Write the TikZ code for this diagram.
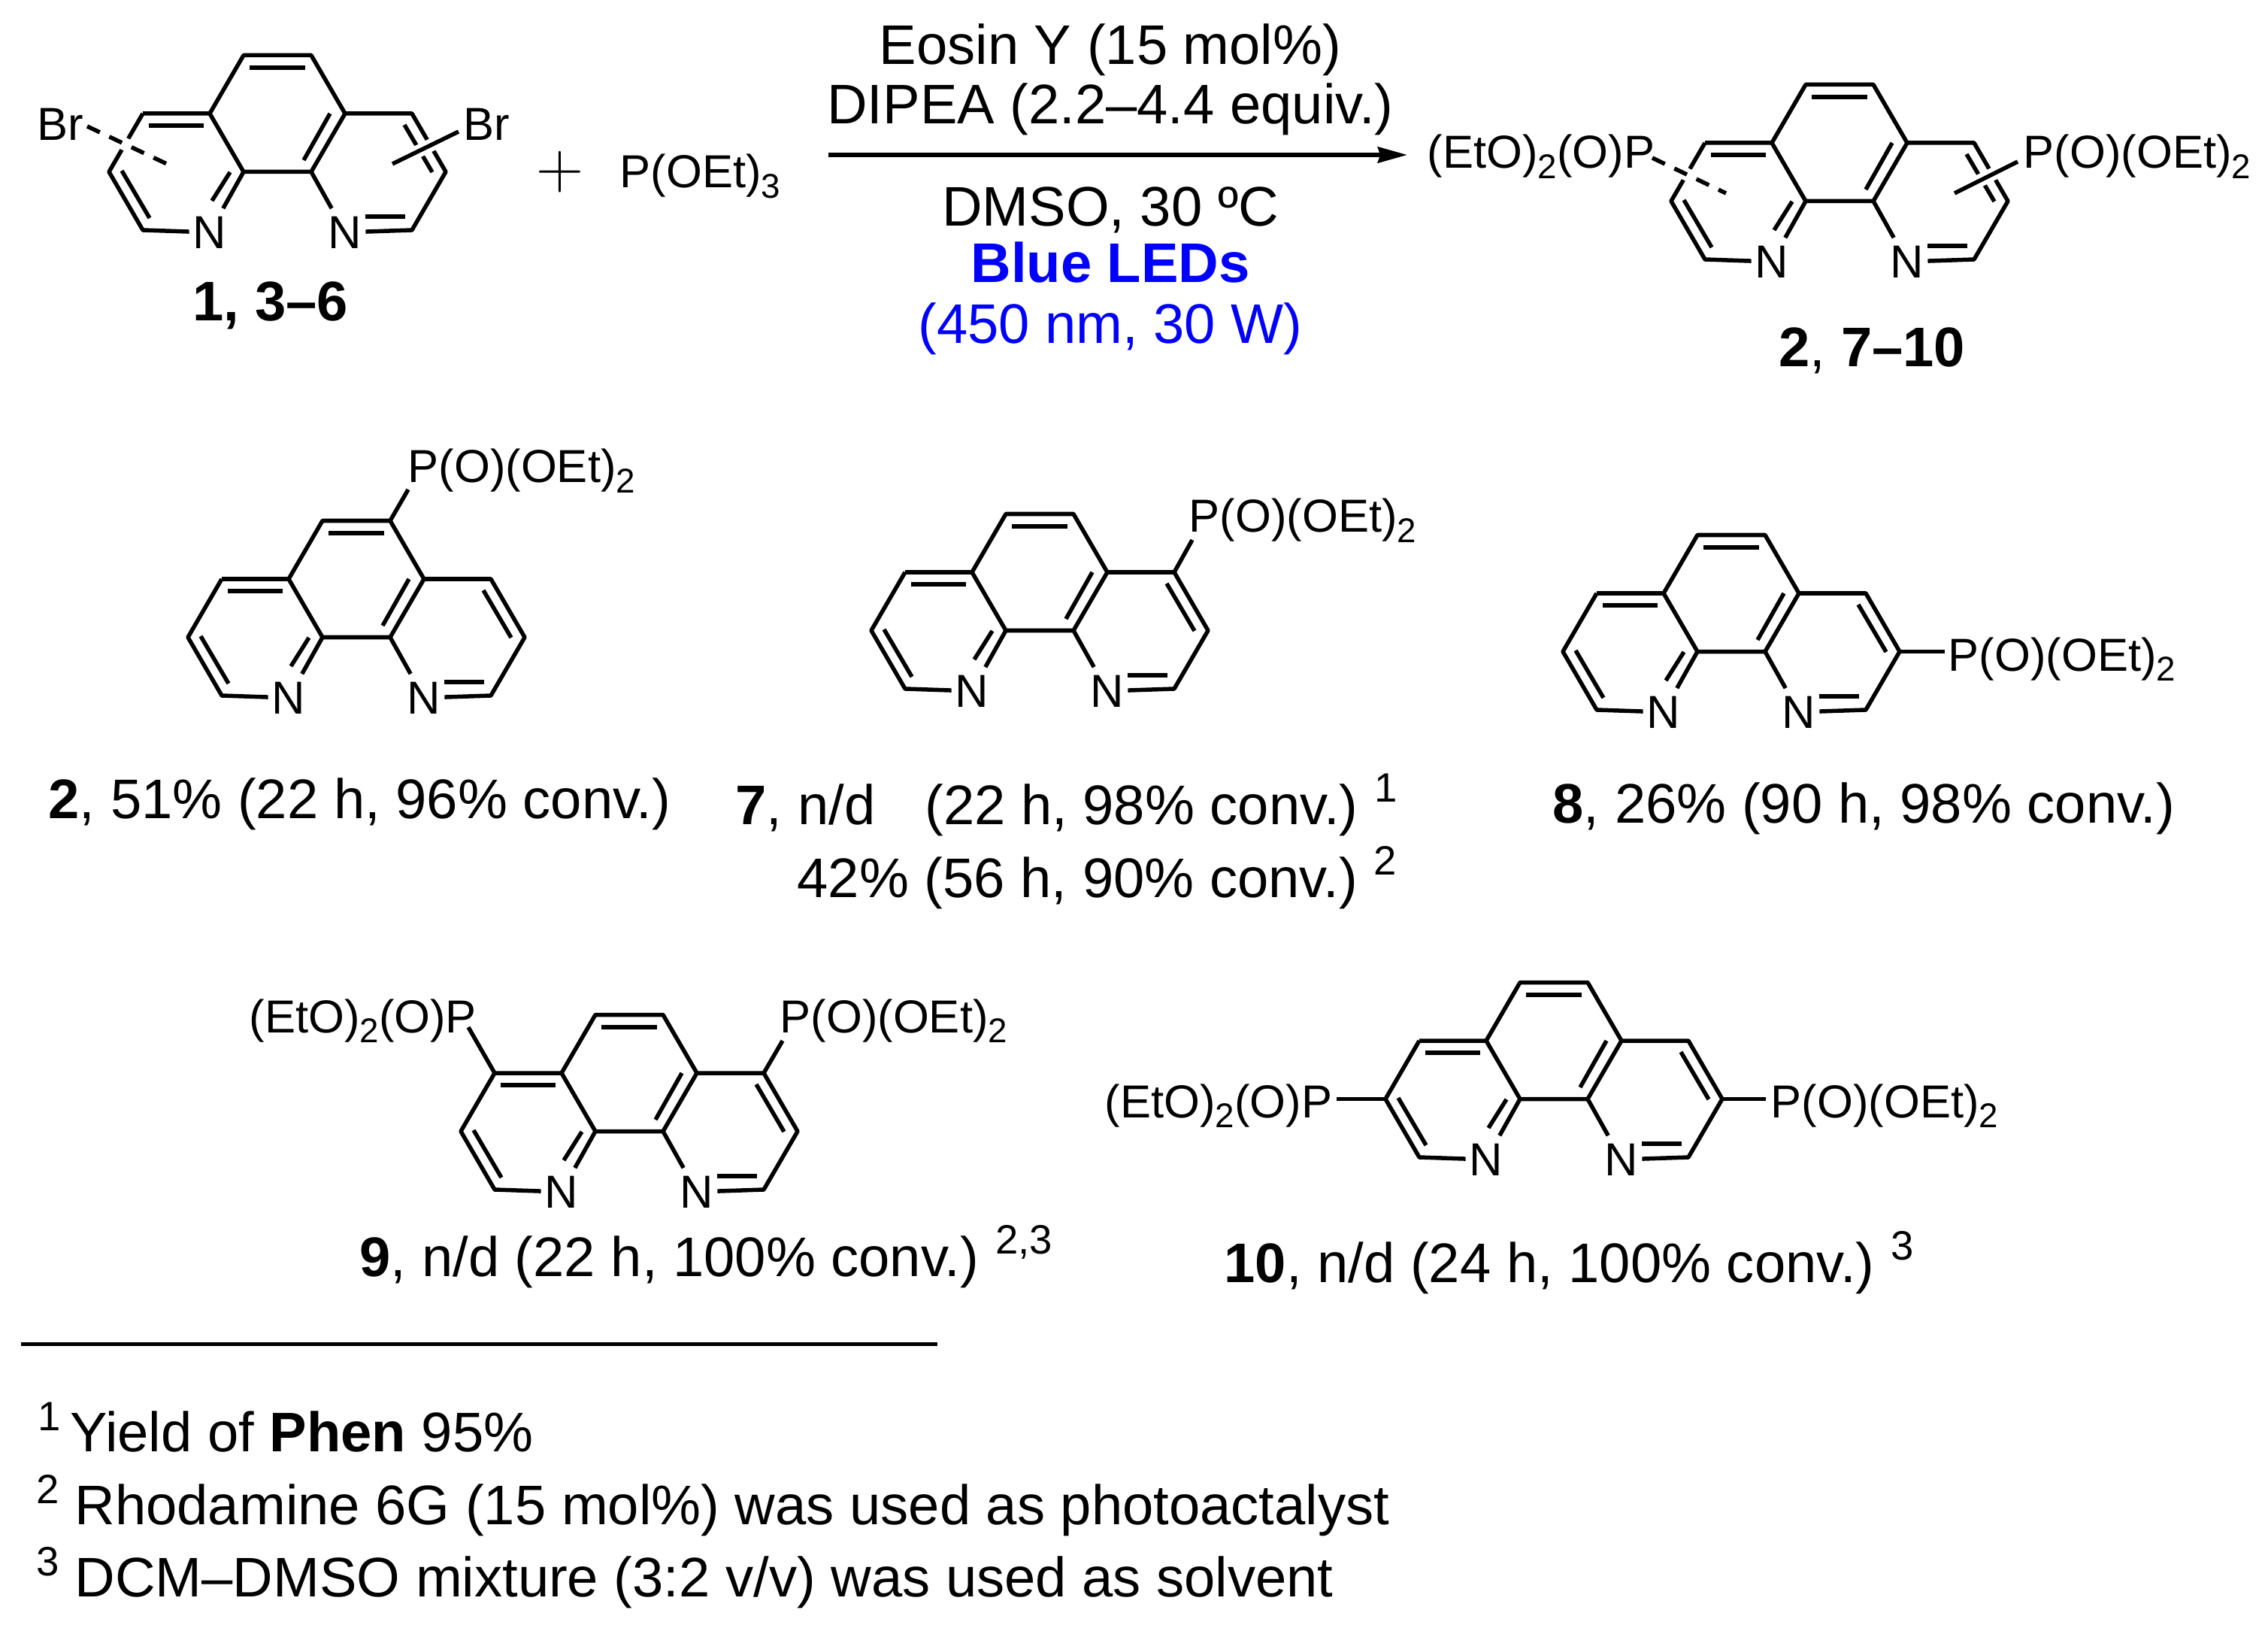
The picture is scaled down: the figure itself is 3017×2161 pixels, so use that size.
\documentclass[tikz,border=0pt]{standalone}
\usepackage{fontspec}
\setmainfont{Liberation Sans}
\usetikzlibrary{arrows.meta}

\definecolor{ledblue}{RGB}{0,0,255}
\newcommand{\lowered}[1]{\raisebox{-0.13cm}{\fontsize{13}{13}\selectfont #1}}
\newcommand{\upnote}[1]{\hspace{0.22cm}\raisebox{0.29cm}{\fontsize{15.5}{16}\selectfont #1}}
\newcommand{\phos}{P(O)(OEt)\lowered{2}}
\newcommand{\sohp}{(EtO)\lowered{2}(O)P}

\tikzset{
	bond/.style={line width=0.055cm,line join=round},
	halobond/.style={bond,preaction={draw=white,line width=0.17cm,solid}},
	dashbond/.style={halobond,dash pattern=on 0.185cm off 0.14cm},
	atom/.style={inner xsep=0.045cm,inner ysep=0.1cm,font=\fontsize{17.5}{18}\selectfont},
	group/.style={inner sep=0pt,anchor=base west,font=\fontsize{17.5}{18}\selectfont},
	caption/.style={inner sep=0pt,anchor=base west,font=\fontsize{21.1}{23}\selectfont},
	cond/.style={caption,anchor=base}
}

% one phenanthroline skeleton: prefix, centre of the middle ring
\newcommand{\phen}[3]{
	\begin{scope}[shift={(#2,#3)}]
		\coordinate (#1t1) at (-45,-77.5);
		\coordinate (#1t2) at (45,-77.5);
		\coordinate (#1l) at (-90,0);
		\coordinate (#1r) at (90,0);
		\coordinate (#1b1) at (-45,77.5);
		\coordinate (#1b2) at (45,77.5);
		\coordinate (#1lt) at (-179,0);
		\coordinate (#1ll) at (-224,77.5);
		\coordinate (#1lb) at (-179,155);
		\coordinate (#1rt) at (179,0);
		\coordinate (#1rr) at (224,77.5);
		\coordinate (#1rb) at (179,155);
		\node[atom] (#1n1) at (-90,158) {N};
		\node[atom] (#1n2) at (90,158) {N};
		\draw[bond] (#1lt) -- (#1l) -- (#1t1) -- (#1t2) -- (#1r) -- (#1rt) -- (#1rr) -- (#1rb) -- (#1n2);
		\draw[bond] (#1lt) -- (#1ll) -- (#1lb) -- (#1n1);
		\draw[bond] (#1l) -- (#1b1) -- (#1b2) -- (#1r);
		\draw[bond] (#1b1) -- (#1n1);
		\draw[bond] (#1b2) -- (#1n2);
		\foreach \ax/\ay/\bx/\by in {-37/-61/37/-61,-171/16/-98/16,-207/76/-170/139,-63/78/-87/116,70/0/35/62,169/15/206/78,117/137/170/137}
			\draw[bond] (\ax,\ay) -- (\bx,\by);
	\end{scope}
}

\begin{document}
\begin{tikzpicture}[x=0.01cm,y=-0.01cm]
	\useasboundingbox (0,0) rectangle (3017,2161);

	% reaction
	\phen{a}{369}{151}
	\node[group] (bra) at (49,187) {Br};
	\node[group] (brb) at (616,187) {Br};
	\coordinate (bra1) at (116,168);
	\coordinate (bra2) at (222,218);
	\coordinate (brb1) at (610,175);
	\coordinate (brb2) at (522,218);
	\draw[dashbond] (bra1) -- (bra2);
	\draw[halobond] (brb1) -- (brb2);
	\node[caption,font=\fontsize{21.1}{23}\selectfont\bfseries] (cap1) at (256,427) {1, 3–6};
	\node[inner sep=0pt,font=\fontsize{24}{24}\selectfont] (plus) at (745,229) {$+$};
	\node[group] (phosphite) at (824,250) {P(OEt)\lowered{3}};

	\node[cond] (eosin) at (1477,86) {Eosin Y (15 mol\%)};
	\node[cond] (dipea) at (1477,165) {DIPEA (2.2–4.4 equiv.)};
	\node[cond] (dmso) at (1477,301) {DMSO, 30 ºC};
	\node[cond,text=ledblue,font=\fontsize{21.1}{23}\selectfont\bfseries] (led) at (1477,376) {Blue LEDs};
	\node[cond,text=ledblue] (nm) at (1477,457) {(450 nm, 30 W)};
	\coordinate (arrowa) at (1102,206);
	\coordinate (arrowb) at (1872,206);
	\draw[-{Stealth[length=0.39cm,width=0.21cm,inset=0.03cm]},line width=0.055cm] (arrowa) -- (arrowb);

	\phen{b}{2447}{190}
	\node[group] (pba) at (1898,224) {\sohp};
	\node[group] (pbb) at (2691,224) {\phos};
	\coordinate (pba1) at (2198,210);
	\coordinate (pba2) at (2296,257);
	\coordinate (pbb1) at (2684,215);
	\coordinate (pbb2) at (2600,257);
	\draw[dashbond] (pba1) -- (pba2);
	\draw[halobond] (pbb1) -- (pbb2);
	\node[caption] (cap2b) at (2366,488) {\textbf{2}, \textbf{7–10}};

	% products
	\phen{c}{474}{770}
	\node[group] (pc) at (542,642) {\phos};
	\coordinate (pc1) at (543,651);
	\draw[bond] (ct2) -- (pc1);
	\node[caption] (cap2) at (64,1088) {\textbf{2}, 51\% (22 h, 96\% conv.)};

	\phen{d}{1383}{761}
	\node[group] (pd) at (1581,708) {\phos};
	\coordinate (pd1) at (1586,718);
	\draw[bond] (drt) -- (pd1);
	\node[caption] (cap7) at (978,1096) {\textbf{7}, n/d\hspace{0.66cm}(22 h, 98\% conv.)\upnote{1}};
	\node[caption] (cap7b) at (1060,1193) {42\% (56 h, 90\% conv.)\upnote{2}};

	\phen{e}{2303}{789}
	\node[group] (pe) at (2591,892) {\phos};
	\coordinate (pe1) at (2587,866.5);
	\draw[bond] (err) -- (pe1);
	\node[caption] (cap8) at (2065,1094) {\textbf{8}, 26\% (90 h, 98\% conv.)};

	\phen{f}{837}{1427}
	\node[group] (pfa) at (331,1373) {\sohp};
	\node[group] (pfb) at (1037,1373) {\phos};
	\coordinate (pfa1) at (623,1366);
	\coordinate (pfb1) at (1041,1384);
	\draw[bond] (flt) -- (pfa1);
	\draw[bond] (frt) -- (pfb1);
	\node[caption] (cap9) at (478,1697) {\textbf{9}, n/d (22 h, 100\% conv.)\upnote{2,3}};

	\phen{g}{2067}{1384}
	\node[group] (pga) at (1469,1486) {\sohp};
	\node[group] (pgb) at (2355,1486) {\phos};
	\coordinate (pga1) at (1778,1461.5);
	\coordinate (pgb1) at (2349,1461.5);
	\draw[bond] (gll) -- (pga1);
	\draw[bond] (grr) -- (pgb1);
	\node[caption] (cap10) at (1628,1705) {\textbf{10}, n/d (24 h, 100\% conv.)\upnote{3}};

	% footnotes
	\coordinate (rulea) at (28,1787);
	\coordinate (ruleb) at (1247,1787);
	\draw[line width=0.05cm] (rulea) -- (ruleb);
	\node[caption] (note1) at (50,1930) {\raisebox{0.27cm}{\fontsize{15.5}{16}\selectfont 1}\,Yield of \textbf{Phen} 95\%};
	\node[caption] (note2) at (48,2027) {\raisebox{0.27cm}{\fontsize{15.5}{16}\selectfont 2} Rhodamine 6G (15 mol\%) was used as photoactalyst};
	\node[caption] (note3) at (48,2123) {\raisebox{0.27cm}{\fontsize{15.5}{16}\selectfont 3} DCM–DMSO mixture (3:2 v/v) was used as solvent};
\end{tikzpicture}
\end{document}
